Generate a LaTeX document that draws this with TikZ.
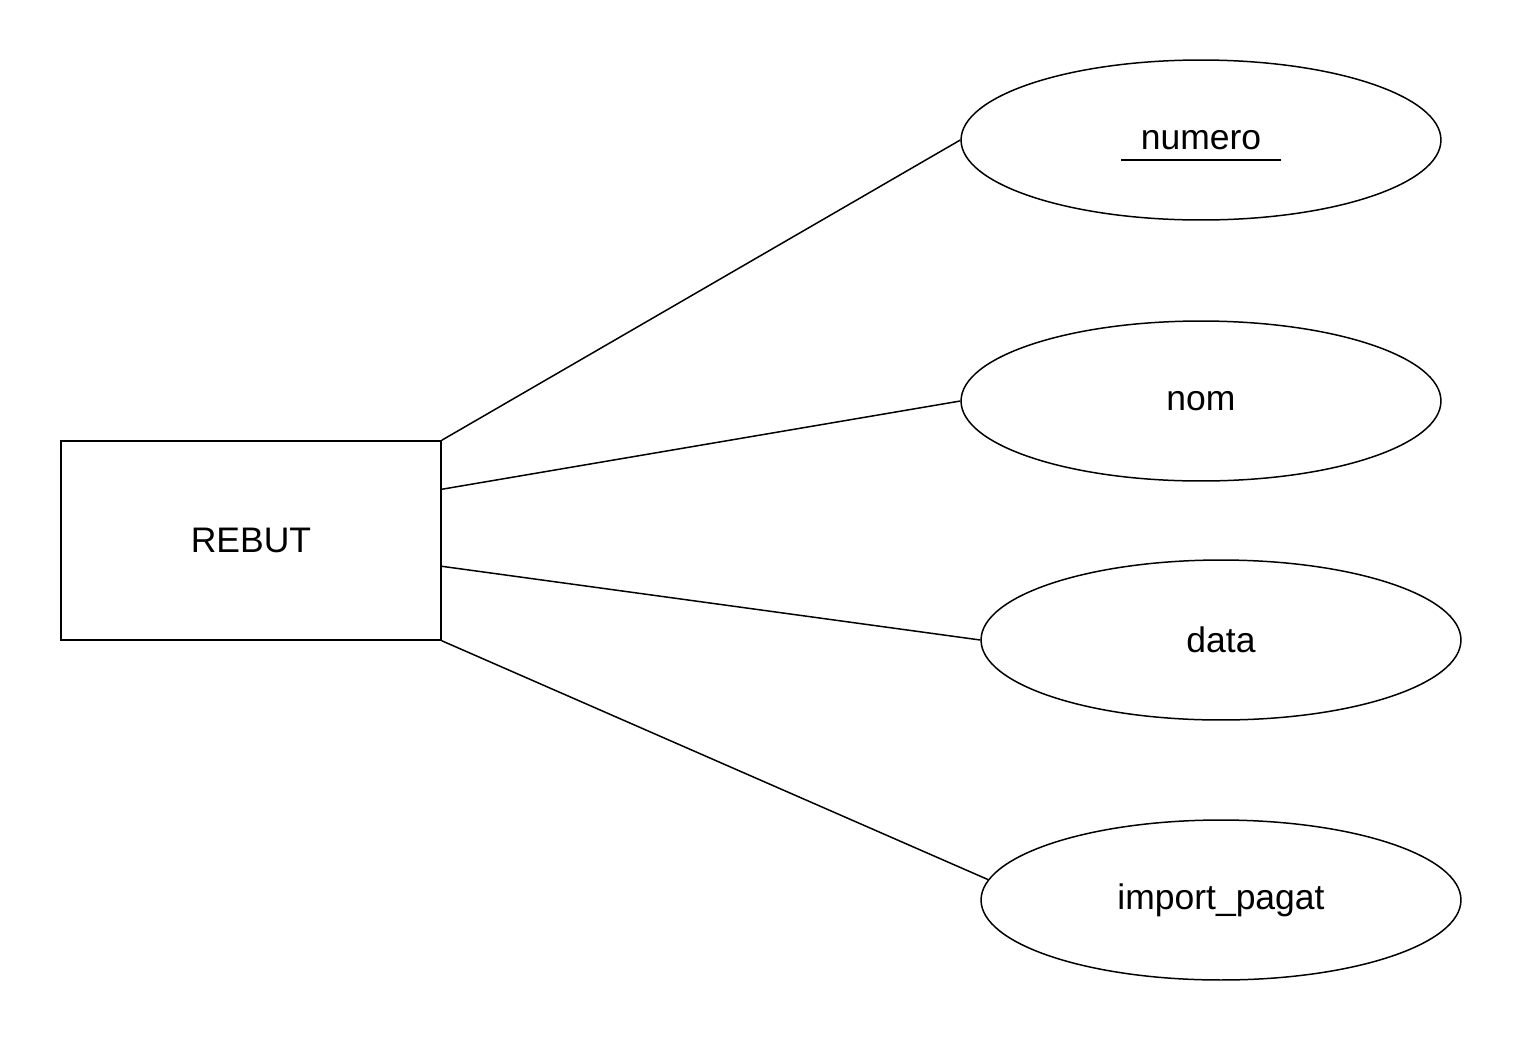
\documentclass[tikz,border=0pt]{standalone}
\usepackage{fontspec}
\setmainfont{Liberation Sans}
\usetikzlibrary{shapes.geometric, calc}

\begin{document}
\begin{tikzpicture}[
    x=0.02cm, y=-0.02cm,
    font=\fontsize{20.2}{24}\selectfont,
    entity/.style={draw, line width=0.85pt, rectangle, minimum width=7.6cm, minimum height=3.98cm, inner sep=0pt},
    attr/.style={draw, line width=0.85pt, ellipse, minimum width=9.6cm, minimum height=3.2cm, inner sep=0pt},
    line/.style={line width=0.85pt}
]
\useasboundingbox (0,0) rectangle (1522,1042);

% Entity
\node (rebut) [entity] at (251,540.5) {REBUT};

% Attributes
\node (numero) [attr] at (1201,140) {numero};
\node (nom) [attr] at (1201,401) {nom};
\node (data) [attr] at (1221,640) {data};
\node (import) [attr] at (1221,900) {import\_pagat};

% key underline
\draw[line] ($(numero.center)+(-80,20)$) -- ($(numero.center)+(80,20)$);

% Links
\draw [line] (rebut.north east) -- (numero.west);
\draw [line] ($(rebut.north east)+(0,49)$) -- (nom.west);
\draw [line] ($(rebut.north east)+(0,126)$) -- (data.west);
\draw [line] (rebut.south east) -- (import.175);

\end{tikzpicture}
\end{document}
